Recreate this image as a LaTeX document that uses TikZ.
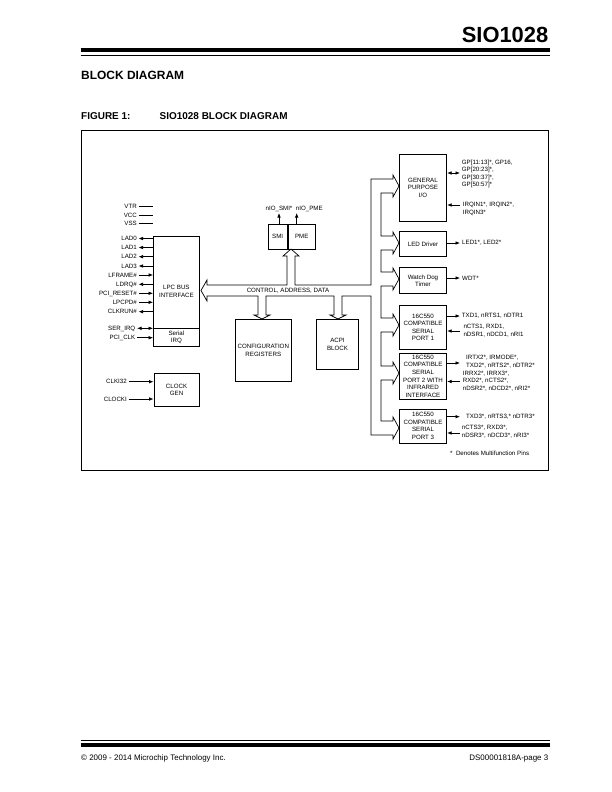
\documentclass[tikz,border=0pt]{standalone}
\usepackage{fontspec}
\setmainfont{Liberation Sans}
\usetikzlibrary{arrows.meta,positioning,calc}
\newcommand\dgfont{\fontsize{6.2}{7.6}\selectfont}
\tikzset{
  blk/.style={draw,line width=0.8bp,align=center,font=\dgfont,inner sep=1bp},
  rblk/.style={blk,minimum width=47.5bp},
  pinl/.style={font=\dgfont,anchor=east,inner sep=1.5bp,text height=4.3bp,text depth=0bp},
  pinr/.style={font=\dgfont,anchor=west,inner sep=0pt,align=left},
  sig/.style={-{Latex[length=4.5bp,width=3.6bp]},line width=0.7bp},
  bidir/.style={{Latex[length=4.5bp,width=3.6bp]}-{Latex[length=4.5bp,width=3.6bp]},line width=0.7bp},
  pwr/.style={line width=0.7bp},
  bus/.style={line width=0.7bp,line join=miter},
}

\begin{document}
\begin{tikzpicture}[x=1bp,y=-1bp,font=\dgfont]
  \useasboundingbox (0,0) rectangle (612,792);
  \fill[white] (0,0) rectangle (612,792);

  % page header
  \node[anchor=base east,inner sep=0pt,font=\fontsize{22}{26}\selectfont\bfseries] (title) at (548.5,42.3) {SIO1028};
  \draw[line width=4bp] (80.5,50.3) -- (549.5,50.3);
  \draw[line width=1bp] (80.5,55.5) -- (549.5,55.5);
  \node[anchor=base west,inner sep=0pt,font=\fontsize{12}{14}\selectfont\bfseries] (sect) at (81,79.5) {BLOCK DIAGRAM};
  \node[anchor=base west,inner sep=0pt,font=\fontsize{10}{12}\selectfont\bfseries] (fig) at (81,119) {FIGURE 1:};
  \node[anchor=base west,inner sep=0pt,font=\fontsize{10}{12}\selectfont\bfseries] (figt) at (159.5,119) {SIO1028 BLOCK DIAGRAM};
  \draw[line width=0.8bp] (81.5,130) rectangle (548.5,470);

  % LPC side
  \node[blk,minimum width=45.8bp,minimum height=110.7bp] (lpc) at (176.4,291.3) {LPC BUS\\INTERFACE};
  \node[blk,minimum width=45.8bp,minimum height=18.4bp,anchor=south] (sirq) at (lpc.south) {Serial\\IRQ};
  \node[blk,minimum width=45.3bp,minimum height=33.4bp] (clk) at (176.6,390) {CLOCK\\GEN};

  \node[pinl] (vtr) at (138.5,206) {VTR};
  \node[pinl] (vcc) at (138.5,215) {VCC};
  \node[pinl] (vss) at (138.5,223.5) {VSS};
  \draw[pwr] (vtr.east) -- ++(14,0);
  \draw[pwr] (vcc.east) -- ++(14,0);
  \draw[pwr] (vss.east) -- ++(14,0);

  \node[pinl] (lad0) at (138.5,238.5) {LAD0};
  \node[pinl] (lad1) at (138.5,247.5) {LAD1};
  \node[pinl] (lad2) at (138.5,256.7) {LAD2};
  \node[pinl] (lad3) at (138.5,266) {LAD3};
  \node[pinl] (lframe) at (138.5,275) {LFRAME\#};
  \node[pinl] (ldrq) at (138.5,284.3) {LDRQ\#};
  \node[pinl] (prst) at (138.5,293.3) {PCI\_RESET\#};
  \node[pinl] (lpcpd) at (138.5,302.3) {LPCPD\#};
  \node[pinl] (clkrun) at (138.5,311.7) {CLKRUN\#};
  \node[pinl] (serirq) at (137,328.3) {SER\_IRQ};
  \node[pinl] (pciclk) at (137,337.7) {PCI\_CLK};
  \draw[sig] (lpc.west |- lad0.east) -- (lad0.east);
  \draw[sig] (lpc.west |- lad1.east) -- (lad1.east);
  \draw[sig] (lpc.west |- lad2.east) -- (lad2.east);
  \draw[sig] (lpc.west |- lad3.east) -- (lad3.east);
  \draw[sig] (lframe.east) -- (lpc.west |- lframe.east);
  \draw[sig] (lpc.west |- ldrq.east) -- (ldrq.east);
  \draw[sig] (prst.east) -- (lpc.west |- prst.east);
  \draw[sig] (lpcpd.east) -- (lpc.west |- lpcpd.east);
  \draw[sig] (lpc.west |- clkrun.east) -- (clkrun.east);
  \draw[bidir] (serirq.east) -- (sirq.west |- serirq.east);
  \draw[sig] (pciclk.east) -- (sirq.west |- pciclk.east);

  \node[pinl] (clki32) at (128.5,381.7) {CLKI32};
  \node[pinl] (clocki) at (128.5,399) {CLOCKI};
  \draw[sig] (clki32.east) -- (clk.west |- clki32.east);
  \draw[sig] (clocki.east) -- (clk.west |- clocki.east);

  % middle blocks
  \node[blk,minimum width=19bp,minimum height=25bp] (smi) at (277.7,236.5) {SMI};
  \node[blk,minimum width=27.6bp,minimum height=25bp,right=0pt of smi] (pme) {PME};
  \coordinate (smiout) at (279,213);
  \coordinate (pmeout) at (296.7,213);
  \draw[sig] (smiout |- smi.north) -- (smiout);
  \draw[sig] (pmeout |- pme.north) -- (pmeout);
  \node[anchor=south,inner sep=1bp] (smil) at (smiout) {nIO\_SMI*};
  \node[anchor=south west,inner sep=1bp,xshift=-2bp] (pmel) at (pmeout) {nIO\_PME};

  \node[blk,minimum width=56.7bp,minimum height=61.7bp] (cfg) at (263.3,350.2) {CONFIGURATION\\REGISTERS};
  \node[blk,minimum width=41.6bp,minimum height=50bp] (acpi) at (337.5,344.3) {ACPI\\BLOCK};

  % right side blocks
  \node[rblk,minimum height=67bp] (gp) at (423,187.5) {GENERAL\\PURPOSE\\I/O};
  \node[rblk,minimum height=25bp,below=10bp of gp] (led) {LED Driver};
  \node[rblk,minimum height=26bp,below=10bp of led] (wdt) {Watch Dog\\Timer};
  \node[rblk,minimum height=44bp,below=11bp of wdt] (sp1) {16C550\\COMPATIBLE\\SERIAL\\PORT 1};
  \node[rblk,minimum height=46bp,below=3bp of sp1] (sp2) {16C550\\COMPATIBLE\\SERIAL\\PORT 2 WITH\\INFRARED\\INTERFACE};
  \node[rblk,minimum height=34bp,below=9bp of sp2] (sp3) {16C550\\COMPATIBLE\\SERIAL\\PORT 3};

  % system bus
  \draw[bus] (207,285)
    -- (287,285) -- (287,256) -- (283,256) -- (291,249) -- (299,256) -- (295,256) -- (295,285)
    -- (371,285) -- (371,179)
    -- (393,179) -- (393,175) -- (399,186) -- (393,197) -- (393,193) -- (381,193)
    -- (381,236) -- (393,236) -- (393,232) -- (399,243) -- (393,254) -- (393,250) -- (381,250)
    -- (381,272) -- (393,272) -- (393,268) -- (399,279) -- (393,290) -- (393,286) -- (381,286)
    -- (381,318) -- (393,318) -- (393,314) -- (399,325) -- (393,336) -- (393,332) -- (381,332)
    -- (381,366) -- (393,366) -- (393,362) -- (399,373) -- (393,384) -- (393,380) -- (381,380)
    -- (381,421) -- (393,421) -- (393,417) -- (399,428) -- (393,439) -- (393,435) -- (371,435)
    -- (371,296)
    -- (342,296) -- (342,315) -- (346,315) -- (338,319) -- (330,315) -- (334,315) -- (334,296)
    -- (266,296) -- (266,315) -- (270,315) -- (262,319) -- (254,315) -- (258,315) -- (258,296)
    -- (207,296) -- (207,301) -- (201,290.5) -- (207,280) -- cycle;
  \node (busl) at (288,291) {CONTROL, ADDRESS, DATA};

  % right side pins
  \coordinate (gpio) at (460,173);
  \coordinate (irqin) at (460,205);
  \coordinate (ledout) at (460,243);
  \coordinate (wdtout) at (460,278);
  \coordinate (p1out) at (460,316);
  \coordinate (p1in) at (460,331);
  \coordinate (p2out) at (460,363);
  \coordinate (p2in) at (460,381.5);
  \coordinate (p3out) at (460,416.7);
  \coordinate (p3in) at (460,433);
  \draw[bidir] (gp.east |- gpio) -- (gpio);
  \draw[sig] (irqin) -- (gp.east |- irqin);
  \draw[sig] (led.east |- ledout) -- (ledout);
  \draw[sig] (wdt.east |- wdtout) -- (wdtout);
  \draw[sig] (sp1.east |- p1out) -- (p1out);
  \draw[sig] (p1in) -- (sp1.east |- p1in);
  \draw[sig] (sp2.east |- p2out) -- (p2out);
  \draw[sig] (p2in) -- (sp2.east |- p2in);
  \draw[sig] (sp3.east |- p3out) -- (p3out);
  \draw[sig] (p3in) -- (sp3.east |- p3in);

  \node[pinr] (gpiol) at (461.7,174) {GP[11:13]*, GP16,\\GP[20:23]*,\\GP[30:37]*,\\GP[50:57]*};
  \node[pinr] (irqinl) at (462.7,209) {IRQIN1*, IRQIN2*,\\IRQIN3*};
  \node[pinr] (ledl) at (462,243) {LED1*, LED2*};
  \node[pinr] (wdtl) at (462,278) {WDT*};
  \node[pinr] (p1outl) at (461.7,316) {TXD1, nRTS1, nDTR1};
  \node[pinr] (p1inl) at (463.3,331) {nCTS1, RXD1,\\nDSR1, nDCD1, nRI1};
  \node[pinr] (p2outl) at (466,362) {IRTX2*, IRMODE*,\\TXD2*, nRTS2*, nDTR2*};
  \node[pinr] (p2inl) at (462.7,381) {IRRX2*, IRRX3*,\\RXD2*, nCTS2*,\\nDSR2*, nDCD2*, nRI2*};
  \node[pinr] (p3outl) at (466,416.7) {TXD3*, nRTS3,* nDTR3*};
  \node[pinr] (p3inl) at (461.7,432) {nCTS3*, RXD3*,\\nDSR3*, nDCD3*, nRI3*};
  \node[pinr] (note) at (450,453) {*~~Denotes Multifunction Pins};

  % page footer
  \draw[line width=0.8bp] (80.5,740) -- (549.5,740);
  \draw[line width=3.5bp] (80.5,745) -- (549.5,745);
  \node[anchor=west,inner sep=0pt,font=\fontsize{8}{9.5}\selectfont] (copy) at (81,758.3) {\textcopyright{} 2009 - 2014 Microchip Technology Inc.};
  \node[anchor=east,inner sep=0pt,font=\fontsize{8}{9.5}\selectfont] (page) at (548.5,758.3) {DS00001818A-page 3};
\end{tikzpicture}
\end{document}
